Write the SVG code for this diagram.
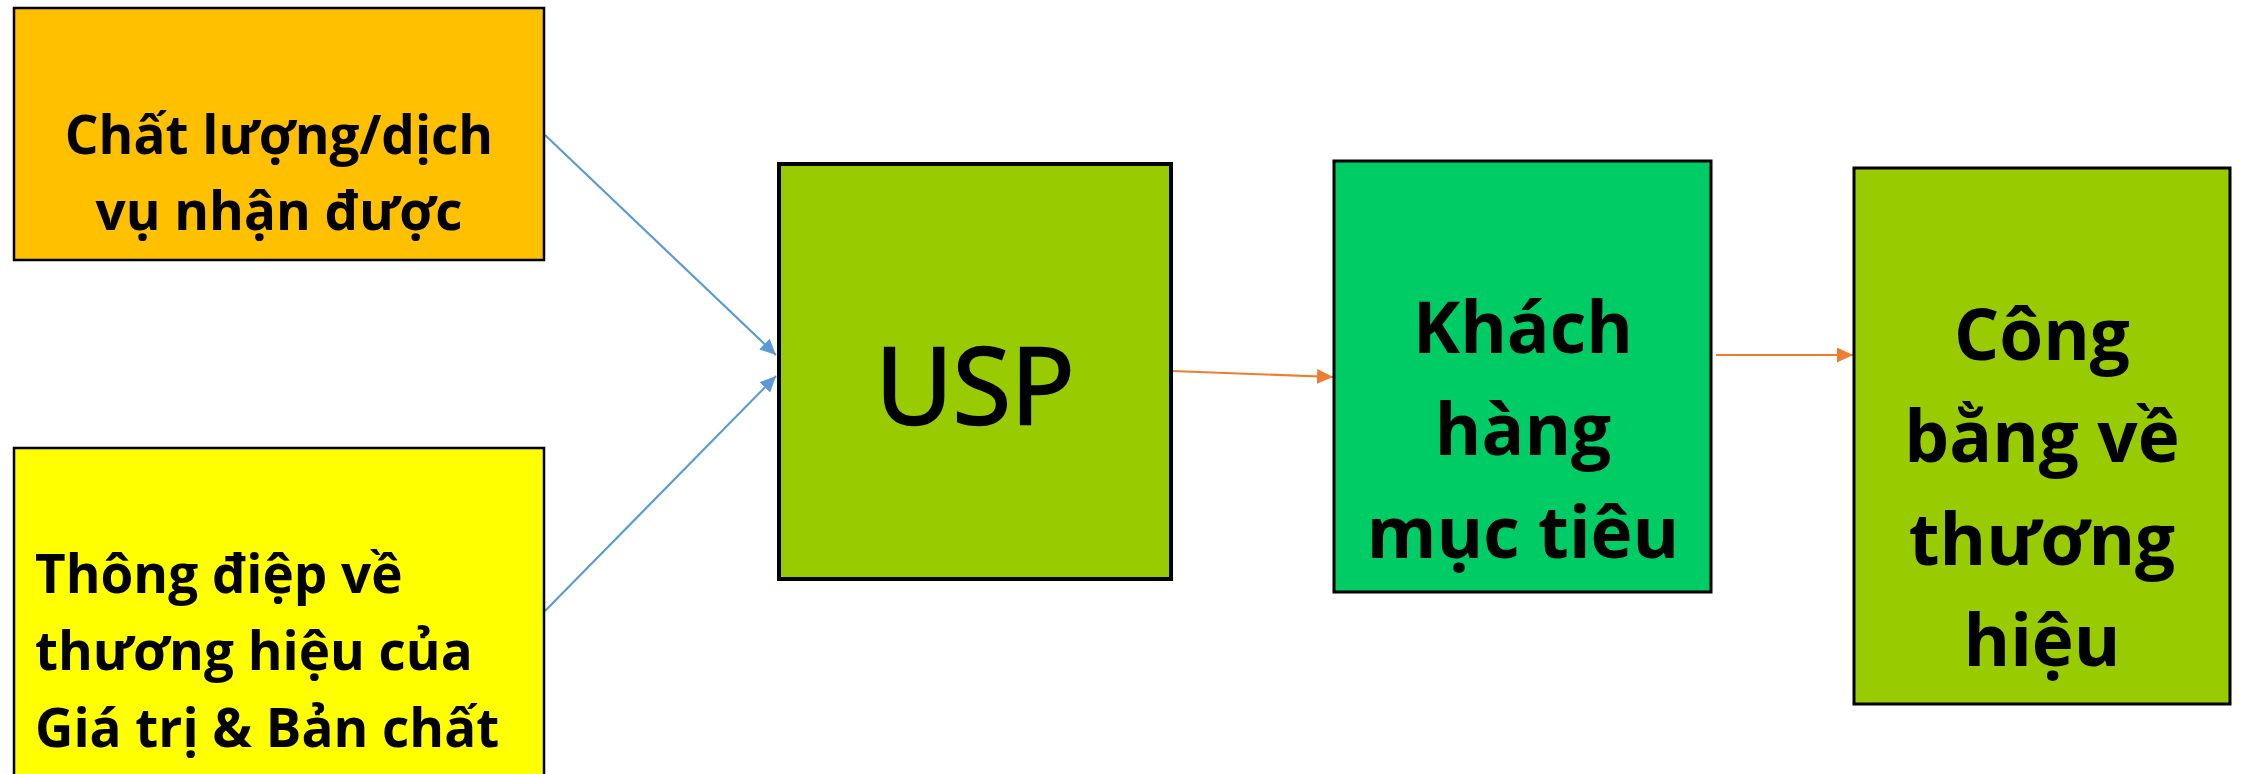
<svg xmlns="http://www.w3.org/2000/svg" width="2247" height="774" viewBox="0 0 2247 774">
<defs>
<style>
.box{stroke:#000;}
.t{font-family:"Open Sans","Noto Sans","DejaVu Sans",sans-serif;font-weight:bold;fill:#000;}
.mid{text-anchor:middle;}
.blue{stroke:#5B9BD5;stroke-width:2.2;fill:none;}
.orng{stroke:#ED7D31;stroke-width:2.2;fill:none;}
</style>
<marker id="ab" markerUnits="userSpaceOnUse" markerWidth="17" markerHeight="15" refX="16" refY="7.5" orient="auto"><path d="M0,0 L16,7.5 L0,15 z" fill="#5B9BD5"/></marker>
<marker id="ao" markerUnits="userSpaceOnUse" markerWidth="17" markerHeight="15" refX="16" refY="7.5" orient="auto"><path d="M0,0 L16,7.5 L0,15 z" fill="#ED7D31"/></marker>
</defs>
<rect width="2247" height="774" fill="#fff"/>
<g id="connectors">
<line class="blue" x1="545" y1="135" x2="776" y2="355" marker-end="url(#ab)"/>
<line class="blue" x1="545" y1="611" x2="776" y2="376" marker-end="url(#ab)"/>
<line class="orng" x1="1172" y1="371" x2="1333" y2="377" marker-end="url(#ao)"/>
<line class="orng" x1="1716" y1="355" x2="1853" y2="355" marker-end="url(#ao)"/>
</g>
<g id="node-chatluong">
<rect class="box" x="14" y="8" width="530" height="252" fill="#FFC000" stroke-width="2.5"/>
<text class="t mid" font-size="53" x="279" y="154">Chất lượng/dịch</text>
<text class="t mid" font-size="53" x="279" y="230">vụ nhận được</text>
</g>
<g id="node-thongdiep">
<rect class="box" x="14" y="448" width="530" height="340" fill="#FFFF00" stroke-width="2.5"/>
<text class="t" font-size="53" x="35" y="593">Thông điệp về</text>
<text class="t" font-size="53" x="35" y="670">thương hiệu của</text>
<text class="t" font-size="53" x="35" y="747">Giá trị &amp; Bản chất</text>
</g>
<g id="node-usp">
<rect class="box" x="779" y="164" width="392" height="415" fill="#99CC00" stroke-width="4"/>
<text class="mid" font-family="Open Sans,Noto Sans,sans-serif" font-size="106" x="975" y="424" stroke="#000" stroke-width="2.5">USP</text>
</g>
<g id="node-khachhang">
<rect class="box" x="1334" y="161" width="377" height="431" fill="#00CC66" stroke-width="3"/>
<text class="t mid" font-size="71" x="1523" y="353">Khách</text>
<text class="t mid" font-size="71" x="1523" y="455">hàng</text>
<text class="t mid" font-size="71" x="1523" y="558">mục tiêu</text>
</g>
<g id="node-congbang">
<rect class="box" x="1854" y="168" width="376" height="536" fill="#99CC00" stroke-width="3"/>
<text class="t mid" font-size="71" x="2042" y="360">Công</text>
<text class="t mid" font-size="71" x="2042" y="462">bằng về</text>
<text class="t mid" font-size="71" x="2042" y="565">thương</text>
<text class="t mid" font-size="71" x="2042" y="666">hiệu</text>
</g>
</svg>
